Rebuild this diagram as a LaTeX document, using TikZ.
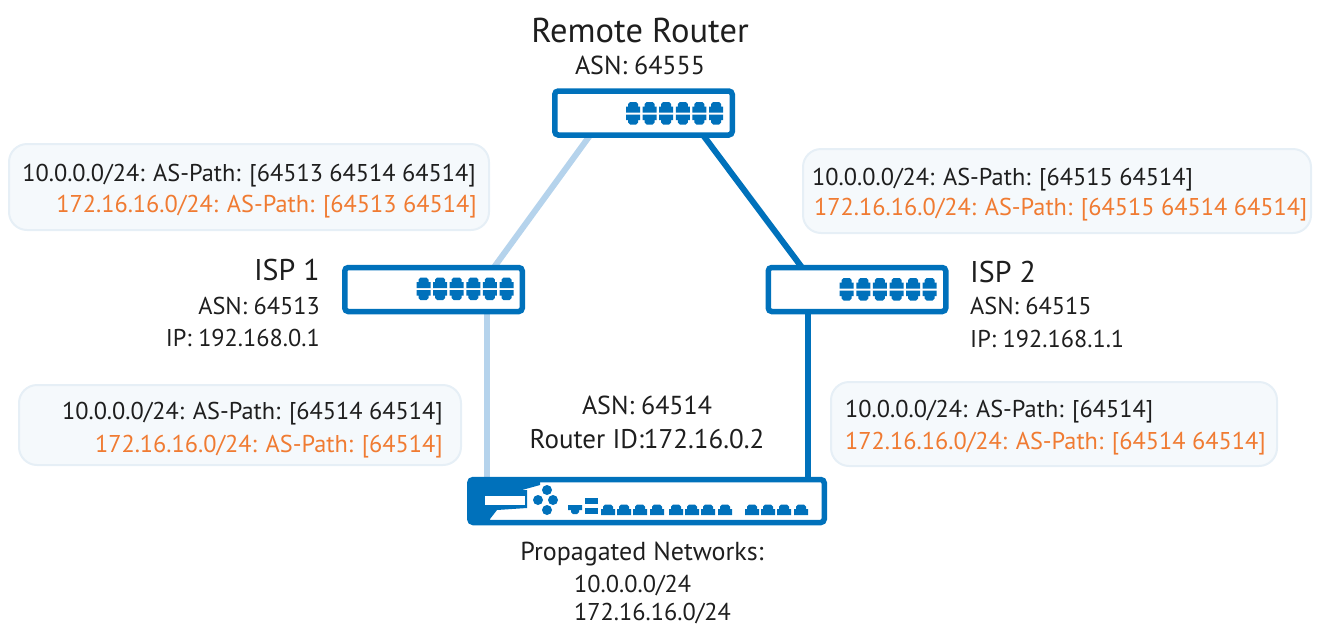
\documentclass[tikz,border=0pt]{standalone}
\usepackage{fontspec}
\setmainfont{PT Sans}
\usetikzlibrary{calc,backgrounds}
\definecolor{netblue}{HTML}{0071BB}
\definecolor{netlight}{HTML}{B5D3EC}
\definecolor{calloutfill}{HTML}{F5F9FC}
\definecolor{calloutline}{HTML}{E6EFF6}
\definecolor{pathorange}{HTML}{F07B32}
\definecolor{textdark}{HTML}{1E1E1E}
\tikzset{
  x=1pt,y=-1pt,
  switchbox/.style={draw=netblue,fill=white,line width=5.5pt,rounded corners=3.5pt,minimum width=177.5pt,minimum height=44pt,inner sep=0pt,outer sep=0pt},
  firewallbox/.style={draw=netblue,fill=white,line width=5.5pt,rounded corners=3.5pt,minimum width=354.5pt,minimum height=43pt,inner sep=0pt,outer sep=0pt},
  callout/.style={draw=calloutline,fill=calloutfill,line width=2pt,rounded corners=18pt,inner sep=0pt},
  linklight/.style={draw=netlight,line width=6pt},
  linkdark/.style={draw=netblue,line width=6pt},
  label/.style={font=\fontsize{24.3}{26}\selectfont,text=textdark,inner sep=0pt,yshift=-6.5pt},
  labelbig/.style={font=\fontsize{26}{28}\selectfont,text=textdark,inner sep=0pt,yshift=-7pt},
  routerid/.style={font=\fontsize{27}{29}\selectfont,text=textdark,inner sep=0pt,yshift=-7.5pt},
  title/.style={font=\fontsize{34.5}{38}\selectfont,text=textdark,inner sep=0pt,yshift=-10pt},
  isptitle/.style={font=\fontsize{30}{34}\selectfont,text=textdark,inner sep=0pt,yshift=-8.5pt},
  blacktext/.style={label},
  orangetext/.style={label,text=pathorange},
}
\newcommand{\upport}[2]{\fill[netblue] (#1-7,#2) -- (#1-7,#2-6) -- (#1-5,#2-6) -- (#1-5,#2-8.5) -- (#1-3,#2-10.5) -- (#1+3,#2-10.5) -- (#1+5,#2-8.5) -- (#1+5,#2-6) -- (#1+7,#2-6) -- (#1+7,#2) -- cycle;}
\newcommand{\downport}[2]{\fill[netblue] (#1-7,#2) -- (#1-7,#2+5.5) -- (#1-5,#2+5.5) -- (#1-5,#2+8) -- (#1-3,#2+10) -- (#1+3,#2+10) -- (#1+5,#2+8) -- (#1+5,#2+5.5) -- (#1+7,#2+5.5) -- (#1+7,#2) -- cycle;}
\newcommand{\portbank}[2]{\foreach \i in {0,...,5}{\pgfmathsetmacro{\px}{#1+16.6*\i}\upport{\px}{#2-1}\downport{\px}{#2+1}}}
\begin{document}
\begin{tikzpicture}
\useasboundingbox (0,0) rectangle (1321,625);
% callouts
\node[callout,minimum width=480pt,minimum height=86pt] (c1) at (249,187) {};
\node[callout,minimum width=508pt,minimum height=84pt] (c2) at (1057,191) {};
\node[callout,minimum width=442pt,minimum height=80pt] (c3) at (240,425) {};
\node[callout,minimum width=446pt,minimum height=84pt] (c4) at (1054,424) {};
% devices
\node[switchbox] (remote) at (643.5,113) {};
\node[switchbox] (isp1) at (433.5,289.5) {};
\node[switchbox] (isp2) at (857,289.5) {};
\node[firewallbox] (fw) at (647,501) {};
% links
\begin{pgfonlayer}{background}
\draw[linklight] ($(remote.south west)!0.2!(remote.south east)$) -- ($(isp1.north west)!0.84!(isp1.north east)$);
\draw[linkdark] ($(remote.south west)!0.835!(remote.south east)$) -- ($(isp2.north west)!0.19!(isp2.north east)$);
\draw[linklight] ($(isp1.south west)!0.80!(isp1.south east)$) -- (fw.north -| {$(isp1.south west)!0.80!(isp1.south east)$});
\draw[linkdark] ($(isp2.south west)!0.224!(isp2.south east)$) -- (fw.north -| {$(isp2.south west)!0.224!(isp2.south east)$});
\end{pgfonlayer}
% switch ports
\portbank{633}{113.5}
\portbank{423.5}{289}
\portbank{846.7}{289.5}
% firewall details
\fill[netblue] (469,479) -- (540,479) -- (540,485) -- (522,490) -- (527,490) -- (527,508) -- (497,510) -- (490,519) -- (490,523) -- (469,523) -- cycle;
\fill[white] (485,496) rectangle (525,505);
\foreach \cx/\cy in {547/490,538/500,553/500,547/510}{\fill[netblue] (\cx,\cy) circle (5);}
\fill[netblue] (568,505) -- (582,505) -- (582,510) -- (579,510) -- (579,512) -- (577,514) -- (573,514) -- (571,512) -- (571,510) -- (568,510) -- cycle;
\fill[netblue] (585,498) rectangle (598,504);
\fill[netblue] (585,508) rectangle (598,514);
\foreach \px in {608,624,640,657,676,692,708,725,752,768,784,801}{\upport{\px}{515}}
% labels
\node[title,anchor=mid] (t0) at (640,30) {Remote Router};
\node[labelbig,anchor=mid] (t1) at (640,65) {ASN: 64555};
\node[isptitle,anchor=mid east] (t2) at (320,269) {ISP 1};
\node[label,anchor=mid east] (t3) at (320,305) {ASN: 64513};
\node[label,anchor=mid east] (t4) at (320,337) {IP: 192.168.0.1};
\node[isptitle,anchor=mid west] (t5) at (970,271) {ISP 2};
\node[label,anchor=mid west] (t6) at (970,305) {ASN: 64515};
\node[label,anchor=mid west] (t7) at (970,338) {IP: 192.168.1.1};
\node[labelbig,anchor=mid] (t8) at (647,405) {ASN: 64514};
\node[routerid,anchor=mid] (t9) at (647,438) {Router ID:172.16.0.2};
\node[labelbig,anchor=mid] (t10) at (642,551) {Propagated Networks:};
\node[label,anchor=mid west] (t11) at (574,583) {10.0.0.0/24};
\node[label,anchor=mid west] (t12) at (574,611) {172.16.16.0/24};
% callout text
\node[blacktext,anchor=mid east] (a1) at (476,172) {10.0.0.0/24: AS-Path: [64513 64514 64514]};
\node[orangetext,anchor=mid east] (a2) at (477,203) {172.16.16.0/24: AS-Path: [64513 64514]};
\node[blacktext,anchor=mid west] (b1) at (812,176) {10.0.0.0/24: AS-Path: [64515 64514]};
\node[orangetext,anchor=mid west] (b2) at (814,206) {172.16.16.0/24: AS-Path: [64515 64514 64514]};
\node[blacktext,anchor=mid east] (d1) at (443,410) {10.0.0.0/24: AS-Path: [64514 64514]};
\node[orangetext,anchor=mid east] (d2) at (443,443) {172.16.16.0/24: AS-Path: [64514]};
\node[blacktext,anchor=mid west] (e1) at (845,408) {10.0.0.0/24: AS-Path: [64514]};
\node[orangetext,anchor=mid west] (e2) at (845,440) {172.16.16.0/24: AS-Path: [64514 64514]};
\end{tikzpicture}
\end{document}
